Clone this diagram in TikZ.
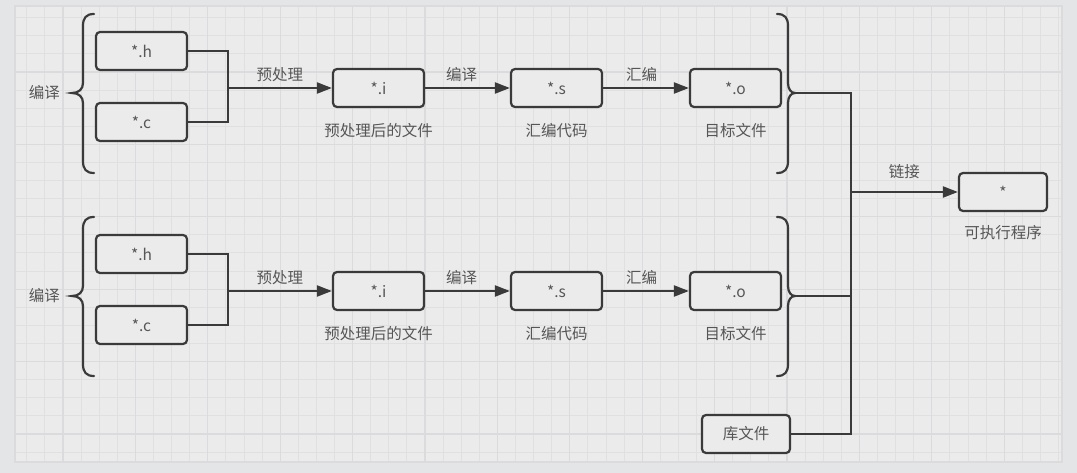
\documentclass[tikz,border=0pt]{standalone}
\usepackage{fontspec}
\setmainfont{Noto Sans CJK SC}
\usetikzlibrary{positioning,arrows.meta}

\definecolor{ink}{HTML}{3A3A3A}
\definecolor{txt}{HTML}{565656}
\definecolor{paper}{HTML}{EBEBEB}
\definecolor{outside}{HTML}{E4E5E7}
\definecolor{gridminor}{HTML}{E0E0E1}
\definecolor{gridmajor}{HTML}{DBDBDD}

\begin{document}
\begin{tikzpicture}[x=1pt, y=-1pt,
    file/.style={draw=ink, line width=2.2pt, rounded corners=4pt, fill=paper,
        minimum width=91pt, minimum height=38pt, inner sep=0pt, text=txt,
        font=\fontsize{15.5}{17}\selectfont},
    lbl/.style={text=txt, inner sep=1pt, font=\fontsize{15.5}{17}\selectfont},
    wire/.style={draw=ink, line width=2.2pt},
    arr/.style={wire, -{Triangle[length=15pt, width=11pt]}},
    brace/.style={draw=ink, line width=2.2pt, line cap=round}]
        % canvas and grid
        \useasboundingbox (0,0) rectangle (1077,473);
        \fill [outside] (0,0) rectangle (1077,473);
        \fill [paper] (15,6) rectangle (1062,462);
        \foreach \k in {-2,...,55}
            \draw [gridminor, line width=1pt] ({63+18.1*\k},6) -- ({63+18.1*\k},462);
        \foreach \k in {-3,...,21}
            \draw [gridminor, line width=1pt] (15,{72+18.1*\k}) -- (1062,{72+18.1*\k});
        \foreach \k in {0,...,13}
            \draw [gridmajor, line width=1.2pt] ({63+72.4*\k},6) -- ({63+72.4*\k},462);
        \foreach \k in {0,...,5}
            \draw [gridmajor, line width=1.2pt] (15,{72+72.4*\k}) -- (1062,{72+72.4*\k});
        \draw [gridmajor, line width=2pt] (15,6) rectangle (1062,462);

        % first unit
        \node [file] (h1) at (141.5,51) {*.h};
        \node [file] (c1) at (141.5,122) {*.c};
        \node [file] (i1) at (378.5,88) {*.i};
        \node [file] (s1) at (556.5,88) {*.s};
        \node [file] (o1) at (735.5,88) {*.o};
        \node [lbl, below=14pt of i1] (i1t) {预处理后的文件};
        \node [lbl, below=14pt of s1] (s1t) {汇编代码};
        \node [lbl, below=14pt of o1] (o1t) {目标文件};
        \coordinate (m1) at (228,88);
        \coordinate (lb1) at (72,93);
        \coordinate (rb1) at (795,93);
        \node [lbl, left=11pt of lb1] (k1) {编译};
        \draw [brace] (94,14) .. controls (86,14) and (83,18) .. (83,26) -- (83,83)
            .. controls (83,89) and (79,93) .. (lb1) .. controls (79,93) and (83,97) .. (83,103)
            -- (83,161) .. controls (83,169) and (86,173) .. (94,173);
        \draw [brace] (777,14) .. controls (785,14) and (788,18) .. (788,26) -- (788,83)
            .. controls (788,89) and (791,93) .. (rb1) .. controls (791,93) and (788,97) .. (788,103)
            -- (788,161) .. controls (788,169) and (785,173) .. (777,173);
        \draw [wire] (h1.east) -| (m1);
        \draw [wire] (c1.east) -| (m1);
        \draw [arr] (m1) -- (i1.west) node[lbl, midway, above=4pt]{预处理};
        \draw [arr] (i1) -- (s1) node[lbl, pos=0.43, above=4pt]{编译};
        \draw [arr] (s1) -- (o1) node[lbl, pos=0.45, above=4pt]{汇编};

        % second unit
        \node [file] (h2) at (141.5,254) {*.h};
        \node [file] (c2) at (141.5,325) {*.c};
        \node [file] (i2) at (378.5,291) {*.i};
        \node [file] (s2) at (556.5,291) {*.s};
        \node [file] (o2) at (735.5,291) {*.o};
        \node [lbl, below=14pt of i2] (i2t) {预处理后的文件};
        \node [lbl, below=14pt of s2] (s2t) {汇编代码};
        \node [lbl, below=14pt of o2] (o2t) {目标文件};
        \coordinate (m2) at (228,291);
        \coordinate (lb2) at (72,296);
        \coordinate (rb2) at (795,296);
        \node [lbl, left=11pt of lb2] (k2) {编译};
        \draw [brace] (94,217) .. controls (86,217) and (83,221) .. (83,229) -- (83,286)
            .. controls (83,292) and (79,296) .. (lb2) .. controls (79,296) and (83,300) .. (83,306)
            -- (83,364) .. controls (83,372) and (86,376) .. (94,376);
        \draw [brace] (777,217) .. controls (785,217) and (788,221) .. (788,229) -- (788,286)
            .. controls (788,292) and (791,296) .. (rb2) .. controls (791,296) and (788,300) .. (788,306)
            -- (788,364) .. controls (788,372) and (785,376) .. (777,376);
        \draw [wire] (h2.east) -| (m2);
        \draw [wire] (c2.east) -| (m2);
        \draw [arr] (m2) -- (i2.west) node[lbl, midway, above=4pt]{预处理};
        \draw [arr] (i2) -- (s2) node[lbl, pos=0.43, above=4pt]{编译};
        \draw [arr] (s2) -- (o2) node[lbl, pos=0.45, above=4pt]{汇编};

        % linking
        \node [file, minimum width=88pt] (lib) at (746,434) {库文件};
        \node [file, minimum width=88pt] (exe) at (1003,192) {*};
        \node [lbl, below=12pt of exe] (exet) {可执行程序};
        \coordinate (jt) at (851,93);
        \coordinate (jb) at (851,434);
        \draw [wire] (rb1) -- (jt) -- (jb) -- (lib.east);
        \draw [wire] (rb2) -- (rb2 -| jt);
        \draw [arr] (jt |- exe.west) -- (exe.west) node[lbl, midway, above=11pt]{链接};
    \end{tikzpicture}
\end{document}
